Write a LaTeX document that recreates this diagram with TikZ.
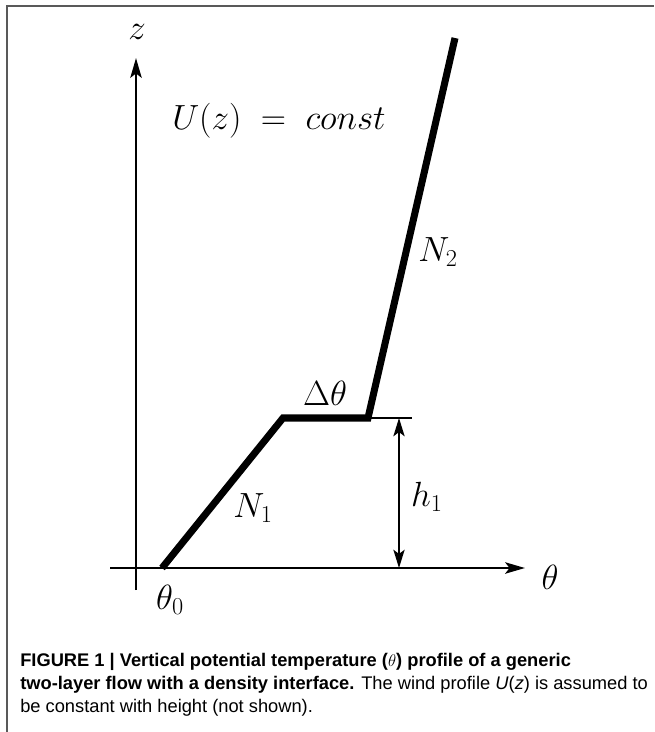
\documentclass[tikz,border=0pt]{standalone}
\usepackage{fontspec}
\setsansfont{Liberation Sans}
\newfontfamily\capfont{Liberation Sans}
\usetikzlibrary{arrows.meta,positioning}

\begin{document}
\begin{tikzpicture}[x=0.025cm,y=-0.025cm,
  axis/.style={line width=2pt, -{Stealth[length=14pt,width=8pt,inset=3pt]}},
  profile/.style={line width=5pt, line join=miter},
  lbl/.style={font=\fontsize{26}{30}\selectfont, inner sep=0pt}]
  \useasboundingbox (0,0) rectangle (654,732);
  % frame of the figure
  \draw[gray!70!black, line width=1.2pt] (7,732) -- (7,6) -- (654,6);

  % axes
  \coordinate (zlow) at (136,590);
  \coordinate (ztop) at (136,58);
  \coordinate (tleft) at (110,568);
  \coordinate (tright) at (525,568);
  \draw[axis] (zlow) -- (ztop);
  \draw[axis] (tleft) -- (tright);
  \node (zlab) [lbl] at (137,32) {$z$};
  \node (tlab) [lbl] at (550,577) {$\theta$};

  % theta profile
  \coordinate (p0) at (162,568);
  \coordinate (p1) at (283,418);
  \coordinate (p2) at (368,418);
  \coordinate (p3) at (455,38);
  \draw[profile] (p0) -- (p1) -- (p2) -- (p3);

  % interface height
  \coordinate (hend) at (412,418);
  \coordinate (htop) at (399,418);
  \coordinate (hbot) at (399,568);
  \draw[line width=1.3pt] (p2) -- (hend);
  \draw[line width=1.3pt, {Stealth[length=13pt,width=8pt,inset=3pt]}-{Stealth[length=13pt,width=8pt,inset=3pt]}] (htop) -- (hbot);

  % labels
  \node (ulab) [lbl, anchor=base west] at (172,129) {$U(z)\;=\;const$};
  \node (n1) [lbl] at (253,508) {$N_1$};
  \node (n2) [lbl] at (438,252) {$N_2$};
  \node (dth) [lbl] at (325,393) {$\Delta\theta$};
  \node (h1) [lbl] at (427,497) {$h_1$};
  \node (th0) [lbl] at (170,600) {$\theta_0$};

  % caption
  \node (cap) [anchor=base west, align=left, inner sep=0pt,
    font=\capfont\fontsize{13}{16.2}\selectfont] at (20,712)
    {\textbf{FIGURE 1 | Vertical potential temperature ($\theta$) profile of a generic}\\
     \textbf{two-layer flow with a density interface.} The wind profile \textit{U}(\textit{z}) is assumed to\\
     be constant with height (not shown).};
\end{tikzpicture}
\end{document}
